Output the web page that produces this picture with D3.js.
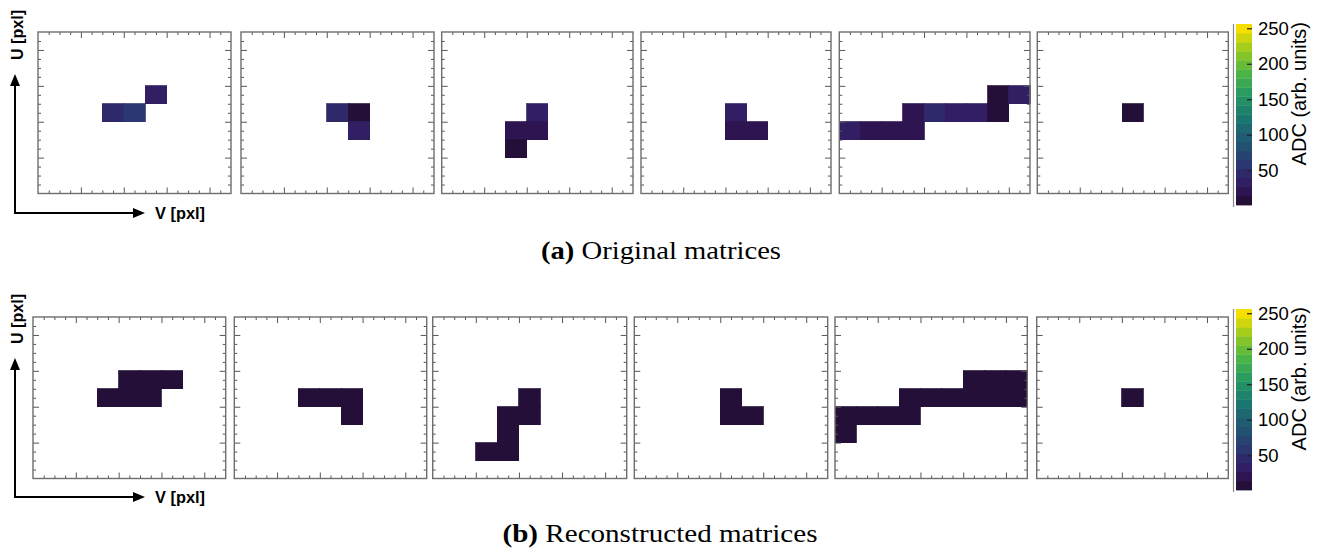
<!DOCTYPE html>
<html>
<head>
<meta charset="utf-8">
<script src="https://cdn.jsdelivr.net/npm/d3@7"></script>
<style>
  html, body { margin: 0; padding: 0; background: #fff; }
  svg { display: block; }
</style>
</head>
<body>
<svg id="chart" width="1320" height="549"></svg>
<script>
// ---------------- DATA ----------------
// each cell: [column V, row U (0 = bottom), ADC value]
const orig1 = [[3,4,48],[4,4,58],[5,5,33]];
const orig2 = [[4,4,47],[5,4,10],[5,3,33]];
const orig3 = [[4,4,33],[3,3,22],[4,3,22],[3,2,10]];
const orig4 = [[4,4,33],[4,3,22],[5,3,22]];
const orig5 = [[0,3,34],[1,3,22],[2,3,22],[3,3,24],[3,4,24],[4,4,48],[5,4,30],[6,4,30],[7,4,10],[7,5,10],[8,5,34]];
const orig6 = [[4,4,10]];

const reco1 = [[3,4,8],[4,4,8],[5,4,8],[4,5,8],[5,5,8],[6,5,8]];
const reco2 = [[3,4,8],[4,4,8],[5,4,8],[5,3,8]];
const reco3 = [[4,4,8],[3,3,8],[4,3,8],[3,2,8],[3,1,8],[2,1,8]];
const reco4 = [[4,4,8],[4,3,8],[5,3,8]];
const reco5 = [[0,2,8],[0,3,8],[1,3,8],[2,3,8],[3,3,8],[3,4,8],[4,4,8],[5,4,8],[6,4,8],[7,4,8],[8,4,8],[6,5,8],[7,5,8],[8,5,8]];
const reco6 = [[4,4,8]];

const originalMatrices = [orig1, orig2, orig3, orig4, orig5, orig6];
const reconstructedMatrices = [reco1, reco2, reco3, reco4, reco5, reco6];

const colorTicks = [50, 100, 150, 200, 250];
const zRange = [1, 256];
const nContours = 20;
const nBins = 9;
const majorTicks = [2, 4, 6, 8];
const minorTicks = d3.range(0.5, 9, 0.5).filter(v => v % 2 !== 0);

const captionA = ["(a)", " Original matrices"];
const captionB = ["(b)", " Reconstructed matrices"];
const axisLabelU = "U [pxl]";
const axisLabelV = "V [pxl]";
const colorTitle = "ADC (arb. units)";

// ROOT kViridis palette stops
const viridisStops = [
  [26,9,30],[51,24,96],[43,55,112],[33,87,114],[28,118,112],
  [35,150,101],[74,180,72],[144,200,35],[246,222,0]
];

// ---------------- LAYOUT ----------------
const rowsLayout = [
  { y0: 32, y1: 193.5, x0: [38, 241, 441.7, 641, 839.3, 1037.3], x1: [231, 434, 633, 831, 1030, 1228.3],
    cb: [24, 205], arrowY: 213, arrowTop: 74, caption: captionA, capY: 259, capW: 240, capX: 661, data: originalMatrices },
  { y0: 317, y1: 478.5, x0: [33, 234.3, 432.7, 634.3, 835, 1036.7], x1: [225.7, 426.7, 626.7, 827.7, 1027.3, 1228.3],
    cb: [309, 490], arrowY: 497, arrowTop: 358, caption: captionB, capY: 542, capW: 315, capX: 660, data: reconstructedMatrices }
];

// ---------------- COLOR ----------------
const paletteInterp = d3.scaleLinear()
  .domain(viridisStops.map((_, i) => i / (viridisStops.length - 1)))
  .range(viridisStops.map(c => d3.rgb(c[0], c[1], c[2])))
  .interpolate(d3.interpolateRgb);
const ncolors = 255;
function bandColor(i) {
  const idx = Math.min(ncolors - 1, Math.floor((i + 0.99) * ncolors / nContours));
  return paletteInterp(idx / (ncolors - 1));
}
const bandWidth = (zRange[1] - zRange[0]) / nContours;
function bandOf(v) {
  return Math.max(0, Math.min(nContours - 1, Math.floor((v - zRange[0]) / bandWidth)));
}

// ---------------- DRAW ----------------
const svg = d3.select("#chart");

function drawArrowLines(g, yCorner, yTop) {
  const xv = 15;
  const xTip = 145;
  g.append("line").attr("x1", xv).attr("y1", yCorner + 1).attr("x2", xv).attr("y2", yTop + 9)
    .attr("stroke", "#000").attr("stroke-width", 2);
  g.append("path").attr("d", `M${xv},${yTop} L${xv - 5},${yTop + 12} L${xv + 5},${yTop + 12} Z`).attr("fill", "#000");
  g.append("line").attr("x1", xv - 1).attr("y1", yCorner).attr("x2", xTip - 9).attr("y2", yCorner)
    .attr("stroke", "#000").attr("stroke-width", 2);
  g.append("path").attr("d", `M${xTip},${yCorner} L${xTip - 12},${yCorner - 5} L${xTip - 12},${yCorner + 5} Z`).attr("fill", "#000");
  g.append("text").attr("x", 155).attr("y", yCorner + 6)
    .attr("font-family", "Liberation Sans, Arial, sans-serif").attr("font-weight", "bold")
    .attr("font-size", 16).attr("fill", "#000")
    .attr("textLength", 50).attr("lengthAdjust", "spacingAndGlyphs").text(axisLabelV);
  g.append("text").attr("transform", `translate(23,${yTop - 39}) rotate(-90)`)
    .attr("text-anchor", "middle")
    .attr("font-family", "Liberation Sans, Arial, sans-serif").attr("font-weight", "bold")
    .attr("font-size", 16).attr("fill", "#000")
    .attr("textLength", 50).attr("lengthAdjust", "spacingAndGlyphs").text(axisLabelU);
}

rowsLayout.forEach(row => {
  const gRow = svg.append("g");
  row.data.forEach((cells, p) => {
    const x = d3.scaleLinear().domain([0, nBins]).range([row.x0[p], row.x1[p]]);
    const y = d3.scaleLinear().domain([0, nBins]).range([row.y1, row.y0]);
    const g = gRow.append("g");
    // cells
    g.selectAll("rect.cell").data(cells).join("rect")
      .attr("class", "cell")
      .attr("x", d => x(d[0]))
      .attr("y", d => y(d[1] + 1))
      .attr("width", d => x(d[0] + 1) - x(d[0]))
      .attr("height", d => y(d[1]) - y(d[1] + 1))
      .attr("fill", d => bandColor(bandOf(d[2])))
      .attr("stroke", d => bandColor(bandOf(d[2])))
      .attr("stroke-width", 0.8)
      .attr("shape-rendering", "crispEdges");
    // ticks on four sides
    const axes = [
      [d3.axisBottom, `translate(0,${row.y1})`, x],
      [d3.axisTop, `translate(0,${row.y0})`, x],
      [d3.axisLeft, `translate(${row.x0[p]},0)`, y],
      [d3.axisRight, `translate(${row.x1[p]},0)`, y]
    ];
    axes.forEach(([fn, tr, sc]) => {
      const gMaj = g.append("g").attr("transform", tr)
        .call(fn(sc).tickValues(majorTicks).tickSize(-6).tickFormat(""));
      const gMin = g.append("g").attr("transform", tr)
        .call(fn(sc).tickValues(minorTicks).tickSize(-3).tickFormat(""));
      [gMaj, gMin].forEach(gg => {
        gg.select(".domain").remove();
        gg.selectAll(".tick line").attr("stroke", "#555").attr("stroke-width", 1);
      });
    });
    // frame
    g.append("rect")
      .attr("x", row.x0[p]).attr("y", row.y0)
      .attr("width", row.x1[p] - row.x0[p]).attr("height", row.y1 - row.y0)
      .attr("fill", "none").attr("stroke", "#6e6e6e").attr("stroke-width", 1.4);
  });

  // colour bar
  const cbX0 = 1236, cbX1 = 1252;
  const cScale = d3.scaleLinear().domain(zRange).range([row.cb[1], row.cb[0]]);
  const bands = d3.range(nContours);
  gRow.append("g").selectAll("rect").data(bands).join("rect")
    .attr("x", cbX0)
    .attr("y", i => cScale(zRange[0] + (i + 1) * bandWidth))
    .attr("width", cbX1 - cbX0)
    .attr("height", i => cScale(zRange[0] + i * bandWidth) - cScale(zRange[0] + (i + 1) * bandWidth) + 0.4)
    .attr("fill", i => bandColor(i));
  gRow.append("line").attr("x1", 1233.5).attr("x2", 1233.5).attr("y1", row.cb[0]).attr("y2", row.cb[1] + 2)
    .attr("stroke", "#888").attr("stroke-width", 1.2);
  const cAxis = gRow.append("g").attr("transform", `translate(${cbX1},0)`)
    .call(d3.axisRight(cScale).tickValues(colorTicks).tickSize(-5).tickPadding(6));
  cAxis.select(".domain").remove();
  cAxis.selectAll(".tick line").attr("stroke", "#222").attr("stroke-width", 1.2);
  cAxis.selectAll(".tick text")
    .attr("font-family", "Liberation Sans, Arial, sans-serif").attr("font-size", 18.5).attr("fill", "#000");
  gRow.append("text")
    .attr("transform", `translate(1306,${row.cb[0] - 2}) rotate(-90)`)
    .attr("text-anchor", "end")
    .attr("font-family", "Liberation Sans, Arial, sans-serif").attr("font-size", 20).attr("fill", "#000")
    .text(colorTitle);

  // orientation arrows
  drawArrowLines(gRow.append("g"), row.arrowY, row.arrowTop);

  // caption
  const cap = gRow.append("text")
    .attr("x", row.capX).attr("y", row.capY)
    .attr("text-anchor", "middle")
    .attr("font-family", "Liberation Serif, Times New Roman, serif").attr("font-size", 25).attr("fill", "#000")
    .attr("textLength", row.capW).attr("lengthAdjust", "spacingAndGlyphs");
  cap.append("tspan").attr("font-weight", "bold").text(row.caption[0]);
  cap.append("tspan").text(row.caption[1]);
});
</script>
</body>
</html>
